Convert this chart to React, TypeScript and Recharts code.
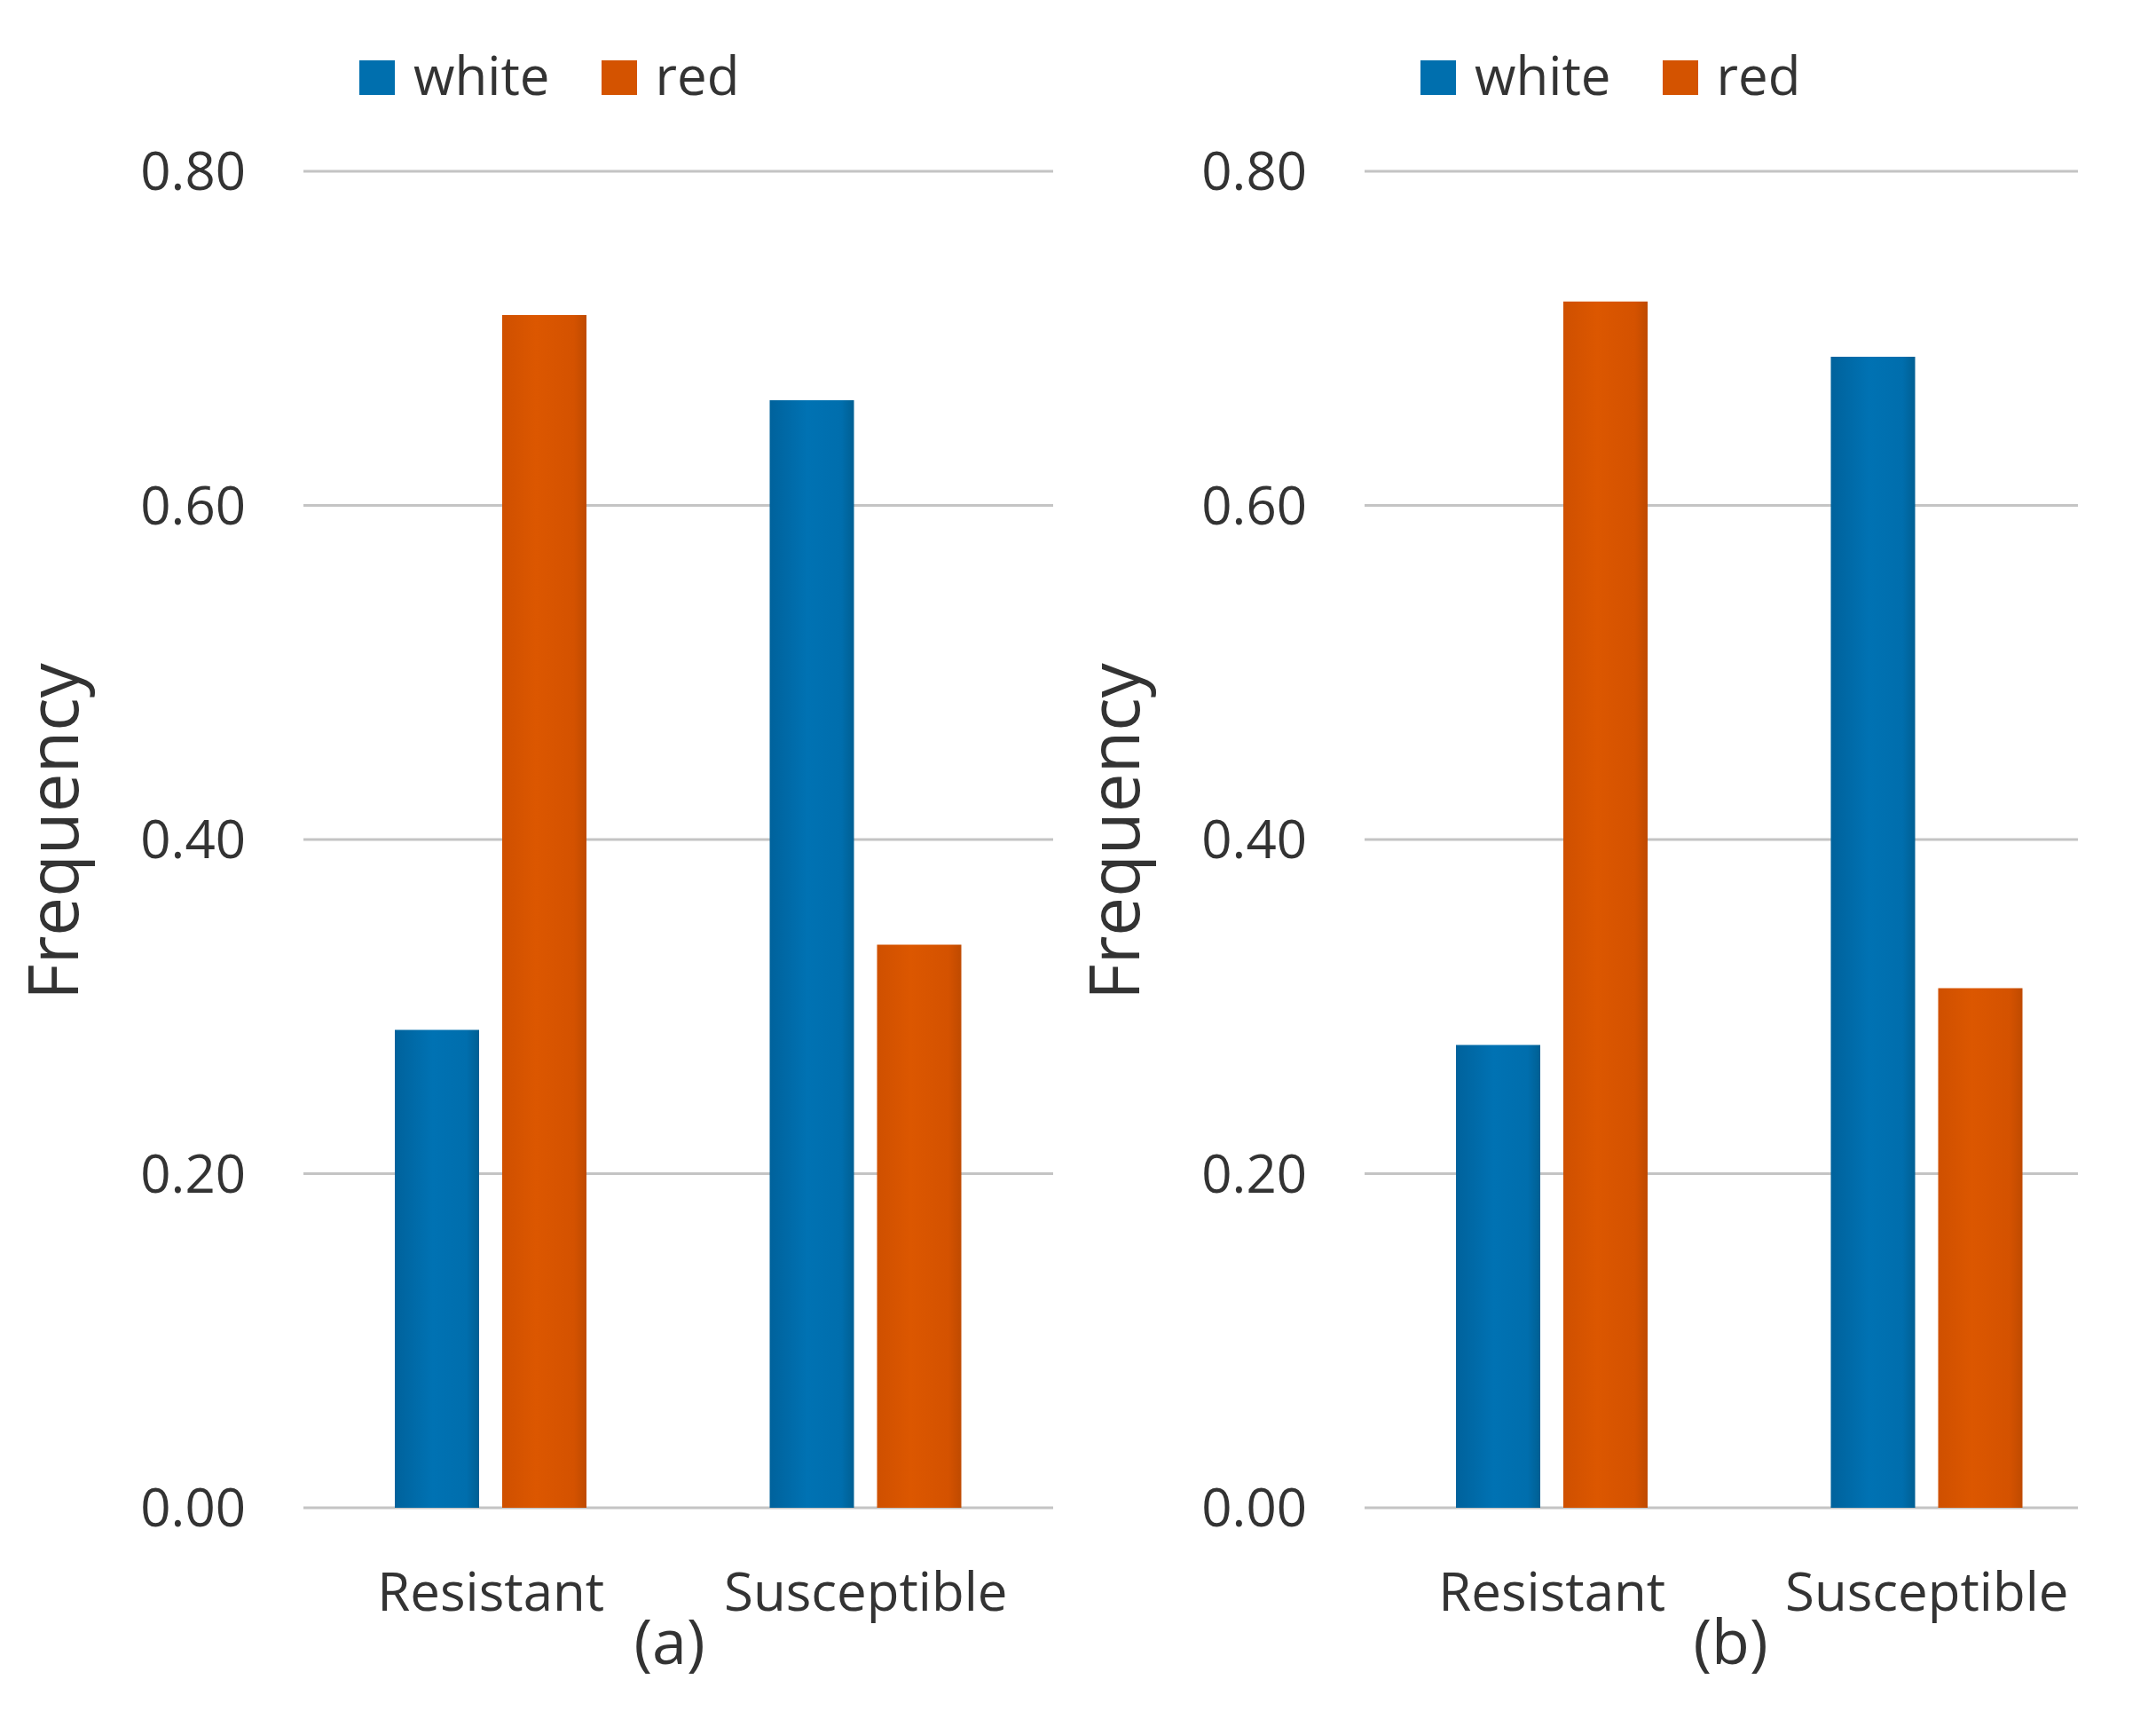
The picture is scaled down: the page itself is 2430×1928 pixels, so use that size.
import React from 'react';
import { BarChart, Bar, XAxis, YAxis, CartesianGrid, Legend } from 'recharts';

// values
const categories = ['Resistant', 'Susceptible'];
const seriesNames = ['white', 'red'];
const whiteA = [0.286, 0.663];
const redA = [0.714, 0.337];
const whiteB = [0.277, 0.689];
const redB = [0.722, 0.311];
const yTicks = [0, 0.2, 0.4, 0.6, 0.8];
const captions = ['(a)', '(b)'];

const FONT = '"Open Sans", "DejaVu Sans", sans-serif';
const TEXT = '#333333';
const BLUE = '#006fae';
const ORANGE = '#d45300';

const PANEL_W = 1196;
const PANEL_H = 1928;

function buildRows(white: number[], red: number[]) {
  return categories.map((c, i) => ({ name: c, white: white[i], red: red[i] }));
}

const LegendBox = () => (
  <div style={{ display: 'flex', alignItems: 'baseline', fontFamily: FONT, fontSize: 60, lineHeight: 1, color: TEXT }}>
    {seriesNames.map((s, i) => (
      <div key={s} style={{ display: 'flex', alignItems: 'baseline', marginRight: i === 0 ? 58 : 0 }}>
        <span style={{ display: 'inline-block', width: 40, height: 39, background: i === 0 ? BLUE : ORANGE, marginRight: 21 }} />
        <span>{s}</span>
      </div>
    ))}
  </div>
);

const freqLabel = (props: any) => {
  const vb = props.viewBox || { x: 0, y: 193, width: 342, height: 1506 };
  const x = vb.x + 88;
  const y = vb.y + vb.height / 2 - 9;
  return (
    <text x={x} y={y} transform={`rotate(-90, ${x}, ${y})`} textAnchor="middle"
      fill={TEXT} fontSize={78} fontFamily={FONT}>
      Frequency
    </text>
  );
};

const captionLabel = (caption: string) => (props: any) => {
  const vb = props.viewBox || { x: 342, y: 1699, width: 845, height: 229 };
  const x = vb.x + vb.width / 2 - 10;
  const y = vb.y + 176;
  return (
    <text x={x} y={y} textAnchor="middle" fill={TEXT} fontSize={70} fontFamily={FONT}>
      {caption}
    </text>
  );
};

function Panel({ white, red, caption, id }: { white: number[]; red: number[]; caption: string; id: string }) {
  const data = buildRows(white, red);
  return (
    <BarChart width={PANEL_W} height={PANEL_H} data={data}
      margin={{ top: 193, right: 9, bottom: 0, left: 0 }} barSize={95} barGap={26}>
      <defs>
        <linearGradient id={`blue-${id}`} x1="0" y1="0" x2="1" y2="0">
          <stop offset="0%" stopColor="#00629c" />
          <stop offset="45%" stopColor="#0072b3" />
          <stop offset="85%" stopColor="#006ead" />
          <stop offset="100%" stopColor="#005f93" />
        </linearGradient>
        <linearGradient id={`orange-${id}`} x1="0" y1="0" x2="1" y2="0">
          <stop offset="0%" stopColor="#cf5000" />
          <stop offset="40%" stopColor="#dc5700" />
          <stop offset="85%" stopColor="#d45200" />
          <stop offset="100%" stopColor="#bf4a00" />
        </linearGradient>
      </defs>
      <CartesianGrid vertical={false} stroke="#c4c4c4" strokeWidth={3} />
      <XAxis dataKey="name" tickLine={false} axisLine={false} tickSize={0} tickMargin={73} height={229}
        interval={0} tick={{ fill: TEXT, fontSize: 60, fontFamily: FONT }}
        label={{ value: caption, content: captionLabel(caption) }} />
      <YAxis domain={[0, 0.8]} ticks={yTicks} tickLine={false} axisLine={false} tickSize={0} tickMargin={65}
        width={342} interval={0} tickFormatter={(v: number) => v.toFixed(2)}
        tick={{ fill: TEXT, fontSize: 60, fontFamily: FONT }}
        label={{ value: 'Frequency', content: freqLabel }} />
      <Legend layout="horizontal" verticalAlign="middle" align="center"
        wrapperStyle={{ top: 54, left: 405, width: 'auto' }} content={() => <LegendBox />} />
      <Bar dataKey="white" name="white" fill={`url(#blue-${id})`} isAnimationActive={false} />
      <Bar dataKey="red" name="red" fill={`url(#orange-${id})`} isAnimationActive={false} />
    </BarChart>
  );
}

export default function App() {
  return (
    <div style={{ position: 'absolute', left: 0, top: 0, width: 2430, height: 1928, background: '#fff', overflow: 'hidden' }}>
      <div style={{ position: 'absolute', left: 0, top: 0, width: PANEL_W, height: PANEL_H }}>
        <Panel white={whiteA} red={redA} caption={captions[0]} id="a" />
      </div>
      <div style={{ position: 'absolute', left: 1196, top: 0, width: 1146, height: PANEL_H, overflow: 'hidden' }}>
        <Panel white={whiteB} red={redB} caption={captions[1]} id="b" />
      </div>
    </div>
  );
}
